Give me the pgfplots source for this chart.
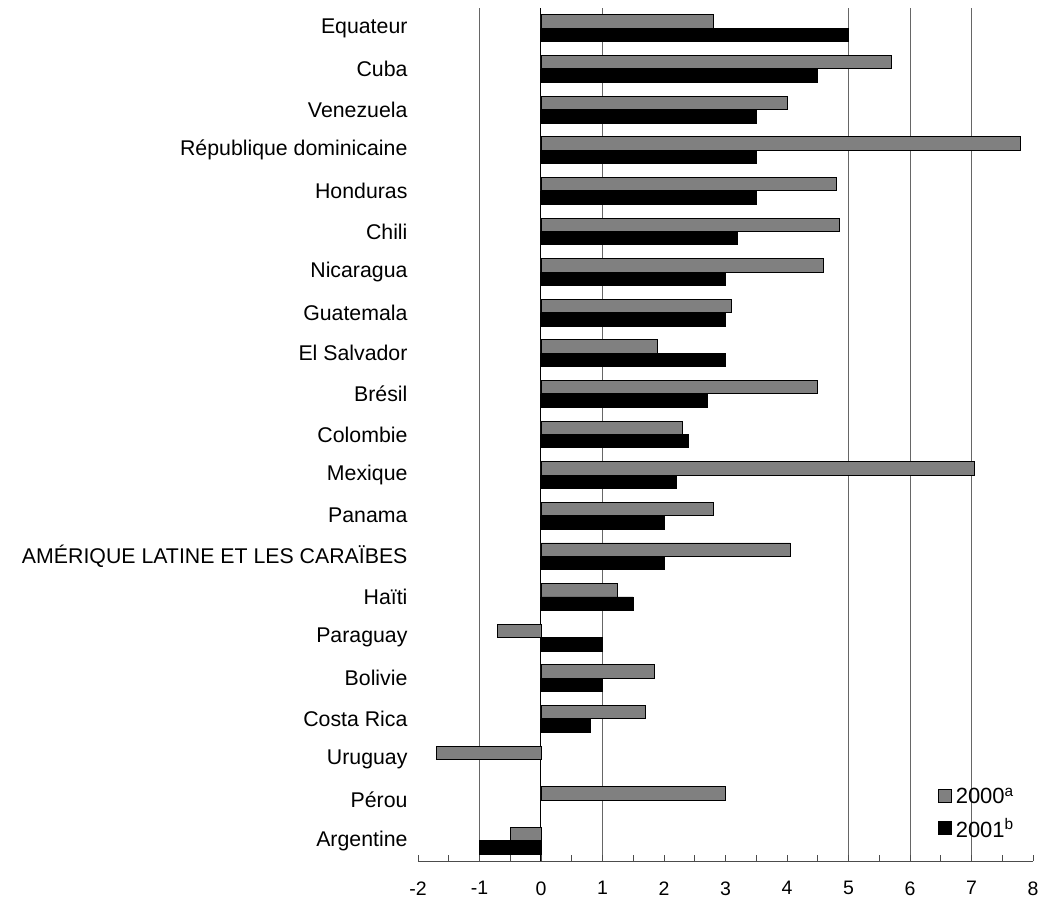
\documentclass[border=0pt]{standalone}
\usepackage{fontspec}
\setmainfont{Liberation Sans}
\usepackage{pgfplots}
\pgfplotsset{compat=1.18}
\begin{document}
\begin{tikzpicture}
\path[use as bounding box] (-418pt,-41pt) rectangle (621pt,861pt);
\begin{axis}[
  at={(0pt,0pt)}, anchor=south west,
  width=615pt, height=853pt, scale only axis,
  xmin=-2, xmax=8, ymin=-0.5, ymax=20.5, y dir=reverse,
  xbar, bar width=0.33,
  axis x line*=bottom, axis y line*=left,
  y axis line style={draw=none},
  x axis line style={black!70, line width=0.7pt},
  xtick={-2,...,8}, xticklabels={-2,-1,0,1,2,3,4,5,6,7,8},
  minor x tick num=1,
  xtick style={black!70, line width=0.6pt},
  minor tick length=6pt, major tick length=6pt,
  tick align=inside,
  xticklabel style={font=\fontsize{19.5}{22}\selectfont, yshift=-17pt},
  ytick={0,...,20},
  ytick style={draw=none},
  yticklabels={Equateur,Cuba,Venezuela,République dominicaine,Honduras,Chili,Nicaragua,Guatemala,El Salvador,Brésil,Colombie,Mexique,Panama,AMÉRIQUE LATINE ET LES CARAÏBES,Haïti,Paraguay,Bolivie,Costa Rica,Uruguay,Pérou,Argentine},
  yticklabel style={font=\fontsize{21.3}{25}\selectfont, anchor=east, xshift=-7pt},
  extra x ticks={-1,1,5,6,7}, extra x tick labels={},
  extra x tick style={grid=major, major grid style={black!60, line width=0.6pt}},
  legend style={at={(0.845,0.088)}, anchor=north west, draw=none, fill=none,
    font=\fontsize{22}{26}\selectfont, row sep=9pt, inner sep=0pt},
  legend cell align=left,
]
\draw[black, line width=1pt] (axis cs:0,-0.5) -- (axis cs:0,20.5);
\addplot[fill=black!50, draw=black, line width=0.9pt, bar shift=-0.165,
  legend image code/.code={\draw[fill=black!50,draw=black,line width=0.9pt] (0pt,-6pt) rectangle (13pt,7pt);}]
  coordinates {(2.8,0) (5.7,1) (4.0,2) (7.8,3) (4.8,4) (4.85,5) (4.6,6) (3.1,7) (1.9,8) (4.5,9) (2.3,10) (7.05,11) (2.8,12) (4.05,13) (1.25,14) (-0.7,15) (1.85,16) (1.7,17) (-1.7,18) (3.0,19) (-0.5,20)};
\addplot[fill=black, draw=black, line width=0.9pt, bar shift=0.165,
  legend image code/.code={\draw[fill=black,draw=black] (0pt,-6pt) rectangle (13pt,7pt);}]
  coordinates {(5.0,0) (4.5,1) (3.5,2) (3.5,3) (3.5,4) (3.2,5) (3.0,6) (3.0,7) (3.0,8) (2.7,9) (2.4,10) (2.2,11) (2.0,12) (2.0,13) (1.5,14) (1.0,15) (1.0,16) (0.8,17) (-1.0,20)};
\legend{{\fontsize{22}{26}\selectfont\hspace{2pt}2000\textsuperscript{a}}, {\fontsize{22}{26}\selectfont\hspace{2pt}2001\textsuperscript{b}}}
\end{axis}
\end{tikzpicture}
\end{document}
